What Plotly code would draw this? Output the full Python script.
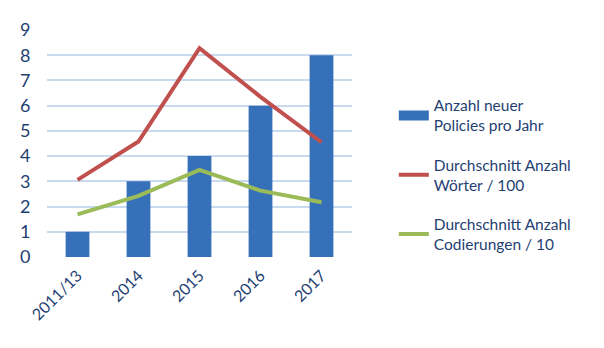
import plotly.graph_objects as go

categories = ["2011/13", "2014", "2015", "2016", "2017"]
policies = [1, 3, 4, 6, 8]
woerter = [3.06, 4.58, 8.28, 6.35, 4.55]
codierungen = [1.69, 2.42, 3.45, 2.63, 2.17]

names = ["Anzahl neuer<br>Policies pro Jahr",
         "Durchschnitt Anzahl<br>Wörter / 100",
         "Durchschnitt Anzahl<br>Codierungen / 10"]

txt = "#1F3F73"
bar_color = "#3670B8"
fig = go.Figure()
fig.add_trace(go.Bar(x=categories, y=policies, name=names[0], width=0.39,
                     marker=dict(color=bar_color, line=dict(width=0)),
                     showlegend=False))
# legend-only swatch for the bars (wide rectangle like the original)
fig.add_trace(go.Scatter(x=[None], y=[None], name=names[0], mode="lines",
                         line=dict(color=bar_color, width=10), legendgroup="a"))
fig.add_trace(go.Scatter(x=categories, y=woerter, name=names[1], mode="lines",
                         line=dict(color="#C0504D", width=4), legendgroup="b"))
fig.add_trace(go.Scatter(x=categories, y=codierungen, name=names[2], mode="lines",
                         line=dict(color="#9BBB59", width=4), legendgroup="c"))

fig.update_layout(
    width=604, height=348,
    margin=dict(l=47, r=252, t=30, b=91),
    paper_bgcolor="white", plot_bgcolor="white",
    font=dict(family="Lato", color=txt, size=15),
    xaxis=dict(type="category", range=[-0.5, 4.5], tickangle=-45,
               tickfont=dict(size=16, color=txt), showgrid=False,
               ticks="outside", ticklen=2, tickcolor="rgba(0,0,0,0)"),
    yaxis=dict(range=[0, 9], dtick=1, showgrid=True, gridcolor="#C9DAF0",
               gridwidth=1.5, zeroline=False, tickfont=dict(size=18, color=txt),
               ticks="outside", ticklen=12, tickcolor="rgba(0,0,0,0)"),
    legend=dict(xref="container", yref="container", x=0.652, y=0.745,
                xanchor="left", yanchor="top", tracegroupgap=16,
                font=dict(size=15.5, color=txt), bgcolor="rgba(0,0,0,0)"),
    showlegend=True,
)
fig.write_html("out.html")
